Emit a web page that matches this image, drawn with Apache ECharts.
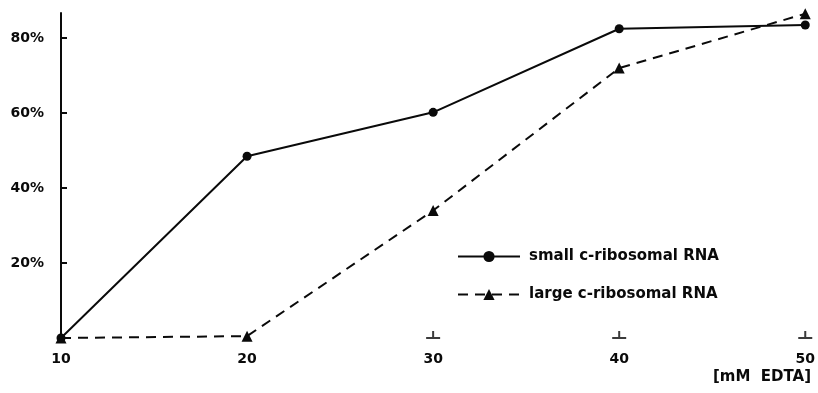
<!DOCTYPE html>
<html>
<head>
<meta charset="utf-8">
<script src="https://cdn.jsdelivr.net/npm/echarts@6/dist/echarts.min.js"></script>
<style>html,body{margin:0;padding:0;background:#fff}#c{width:818px;height:393px}</style>
</head>
<body>
<div id="c"></div>
<script>
var edta = [10, 20, 30, 40, 50];
var smallRNA = [0, 48.5, 60.2, 82.5, 83.5];
var largeRNA = [0, 0.5, 34, 72, 86.5];
var yTicks = [20, 40, 60, 80];
var xMarkTicks = [30, 40, 50];
var seriesNames = ['small c-ribosomal RNA', 'large c-ribosomal RNA'];
var xAxisName = '[mM  EDTA]';

var font = 'DejaVu Sans';
var ink = '#0a0a0a';
var chart = echarts.init(document.getElementById('c'), null, {renderer: 'canvas'});
chart.setOption({
  animation: false,
  backgroundColor: '#fff',
  grid: {left: 61, right: 9, top: 13, bottom: 55},
  title: {
    text: xAxisName, right: 2, bottom: 3,
    textStyle: {fontFamily: font, fontSize: 15, fontWeight: 'bold', color: ink}
  },
  legend: {
    orient: 'vertical', left: 452, top: 244, itemGap: 23,
    itemWidth: 62, itemHeight: 14,
    data: seriesNames,
    textStyle: {fontFamily: font, fontSize: 15, fontWeight: 'bold', color: ink, padding: [0, 0, 0, 4]}
  },
  xAxis: {
    type: 'value', min: 10, max: 50, interval: 10,
    axisLine: {show: false},
    splitLine: {show: false},
    axisTick: {show: false},
    axisLabel: {fontFamily: font, fontSize: 14, fontWeight: 'bold', color: ink, margin: 14}
  },
  yAxis: {
    type: 'value', min: 0, max: 86.7,
    axisLine: {show: true, lineStyle: {color: ink, width: 2}},
    splitLine: {show: false},
    axisTick: {show: true, inside: true, length: 6, customValues: yTicks, lineStyle: {color: ink, width: 2}},
    axisLabel: {customValues: yTicks, fontFamily: font, fontSize: 14, fontWeight: 'bold', color: ink, margin: 17,
      formatter: function (v) { return v + '%'; }}
  },
  series: [
    {
      name: seriesNames[0], type: 'line',
      data: edta.map(function (x, i) { return [x, smallRNA[i]]; }),
      symbol: 'circle', symbolSize: 9,
      lineStyle: {color: ink, width: 2},
      itemStyle: {color: ink}
    },
    {
      name: seriesNames[1], type: 'line',
      data: edta.map(function (x, i) { return [x, largeRNA[i]]; }),
      symbol: 'triangle', symbolSize: 11,
      lineStyle: {color: ink, width: 2, type: [10, 7]},
      itemStyle: {color: ink}
    },
    {
      name: 'ticks', type: 'scatter',
      data: xMarkTicks.map(function (x) { return [x, 0]; }),
      symbol: 'path://M0,6 H14 V8 H0 Z M6,0 H8 V6 H6 Z',
      symbolSize: [14, 8], symbolOffset: [0, -3],
      itemStyle: {color: ink}, silent: true
    }
  ]
});
</script>
</body>
</html>
